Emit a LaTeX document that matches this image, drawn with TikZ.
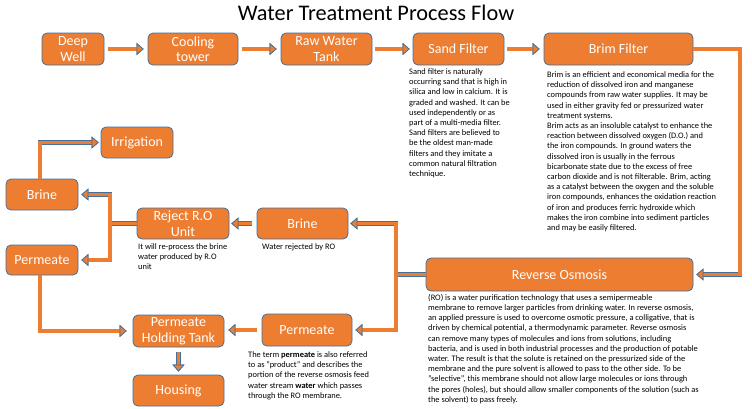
\documentclass[tikz,border=0pt]{standalone}
\usepackage{fontspec}
\setmainfont{Carlito}
\usetikzlibrary{arrows.meta}
\definecolor{ao}{HTML}{ED7D31}
\definecolor{edgec}{HTML}{41719C}
\begin{document}
\begin{tikzpicture}[x=1pt,y=-1pt,
  box/.style={rectangle, rounded corners=5pt, fill=ao, draw=edgec, line width=0.8pt,
    text=white, font=\fontsize{14}{15.5}\selectfont, align=center, inner sep=0pt},
  desc/.style={anchor=north west, inner sep=0pt, align=left,
    font=\fontsize{8.4}{10.2}\selectfont, text=black},
  >={Triangle[width=12pt,length=7pt,line width=0.7pt,fill=ao,color=edgec]},
  flow/.style={draw=ao, line width=3.4pt, preaction={draw=edgec, line width=4.9pt}},
]
\fill[white] (0,0) rectangle (752,408);
\useasboundingbox (0,0) rectangle (752,408);

\node[font=\fontsize{22.3}{24}\selectfont, anchor=base] (title) at (376,20) {Water Treatment Process Flow};

% top row
\node[box, minimum width=62pt, minimum height=32pt] (deep) at (73,49) {Deep\\Well};
\node[box, minimum width=90pt, minimum height=32pt] (cool) at (193,49) {Cooling\\tower};
\node[box, minimum width=91pt, minimum height=32pt] (raw) at (326.5,49) {Raw Water\\Tank};
\node[box, minimum width=91pt, minimum height=32pt] (sand) at (458.5,49) {Sand Filter};
\node[box, minimum width=149pt, minimum height=32pt] (brim) at (618.5,49) {Brim Filter};

% left and lower
\node[box, minimum width=72pt, minimum height=31pt] (irr) at (137,142.5) {Irrigation};
\node[box, minimum width=72pt, minimum height=31pt] (brineL) at (42,194.5) {Brine};
\node[box, minimum width=72pt, minimum height=30pt] (permL) at (42,260) {Permeate};
\node[box, minimum width=92pt, minimum height=31pt] (reject) at (183,223.5) {Reject R.O\\Unit};
\node[box, minimum width=91pt, minimum height=31pt] (brineM) at (302.5,223.5) {Brine};
\node[box, minimum width=267pt, minimum height=33pt] (ro) at (559.5,274.5) {Reverse Osmosis};
\node[box, minimum width=90pt, minimum height=32pt] (permR) at (307,330) {Permeate};
\node[box, minimum width=91pt, minimum height=32pt] (hold) at (178.5,331) {Permeate\\Holding Tank};
\node[box, minimum width=91pt, minimum height=31pt] (house) at (178.5,390.5) {Housing};

% helper coordinates
\coordinate (rx) at (740,0);
\coordinate (tr) at (396,0);
\coordinate (lx) at (110,0);

% connectors
\draw[flow,->,shorten <=4pt,shorten >=4pt] (deep) -- (cool);
\draw[flow,->,shorten <=4pt,shorten >=4pt] (cool) -- (raw);
\draw[flow,->,shorten <=3pt,shorten >=3pt] (raw) -- (sand);
\draw[flow,->,shorten <=3pt,shorten >=4pt] (sand) -- (brim);
\draw[flow,->,shorten >=3pt] (brim.east) -| (rx |- ro.east) -- (ro.east);

\draw[flow] (ro.west) -- (tr |- ro.west);
\draw[flow,<->,shorten <=2pt,shorten >=3pt] (brineM.east) -| (tr |- permR.east) -- (permR.east);

\draw[flow,->,shorten <=5pt,shorten >=2pt] (brineM) -- (reject);
\draw[flow] (reject.west) -- (lx |- reject.west);
\draw[flow,<->,shorten <=3pt,shorten >=3pt] (brineL.east) -| (lx |- permL.east) -- (permL.east);
\draw[flow,->,shorten >=2pt] ([xshift=-2pt]brineL.north) |- (irr.west);
\draw[flow,->,shorten >=6pt] ([xshift=-2pt]permL.south) |- (hold.west);
\draw[flow,->,shorten <=5pt,shorten >=4pt] (permR.west) -- (permR.west -| hold.east);
\draw[flow,->,shorten <=5pt,shorten >=3pt] (hold.south) -- (house.north);

% descriptions
\node[desc] (sandd) at (409,68.5) {Sand filter is naturally\\
occurring sand that is high in\\
silica and low in calcium. It is\\
graded and washed. It can be\\
used independently or as\\
part of a multi-media filter.\\
Sand filters are believed to\\
be the oldest man-made\\
filters and they imitate a\\
common natural filtration\\
technique.};

\node[desc] (brimd) at (547,71.5) {Brim is an efficient and economical media for the\\
reduction of dissolved iron and manganese\\
compounds from raw water supplies. It may be\\
used in either gravity fed or pressurized water\\
treatment systems.\\
Brim acts as an insoluble catalyst to enhance the\\
reaction between dissolved oxygen (D.O.) and\\
the iron compounds. In ground waters the\\
dissolved iron is usually in the ferrous\\
bicarbonate state due to the excess of free\\
carbon dioxide and is not filterable. Brim, acting\\
as a catalyst between the oxygen and the soluble\\
iron compounds, enhances the oxidation reaction\\
of iron and produces ferric hydroxide which\\
makes the iron combine into sediment particles\\
and may be easily filtered.};

\node[desc] (rod) at (428,294) {(RO) is a water purification technology that uses a semipermeable\\
membrane to remove larger particles from drinking water. In reverse osmosis,\\
an applied pressure is used to overcome osmotic pressure, a colligative, that is\\
driven by chemical potential, a thermodynamic parameter. Reverse osmosis\\
can remove many types of molecules and ions from solutions, including\\
bacteria, and is used in both industrial processes and the production of potable\\
water. The result is that the solute is retained on the pressurized side of the\\
membrane and the pure solvent is allowed to pass to the other side. To be\\
"selective", this membrane should not allow large molecules or ions through\\
the pores (holes), but should allow smaller components of the solution (such as\\
the solvent) to pass freely.};

\node[desc] (rejd) at (138,243.5) {It will re-process the brine\\
water produced by R.O\\
unit};
\node[desc] (brmd) at (262,243.5) {Water rejected by RO};
\node[desc] (permd) at (248,351.5) {The term \textbf{permeate} is also referred\\
to as "product" and describes the\\
portion of the reverse osmosis feed\\
water stream \textbf{water} which passes\\
through the RO membrane.};
\end{tikzpicture}
\end{document}
